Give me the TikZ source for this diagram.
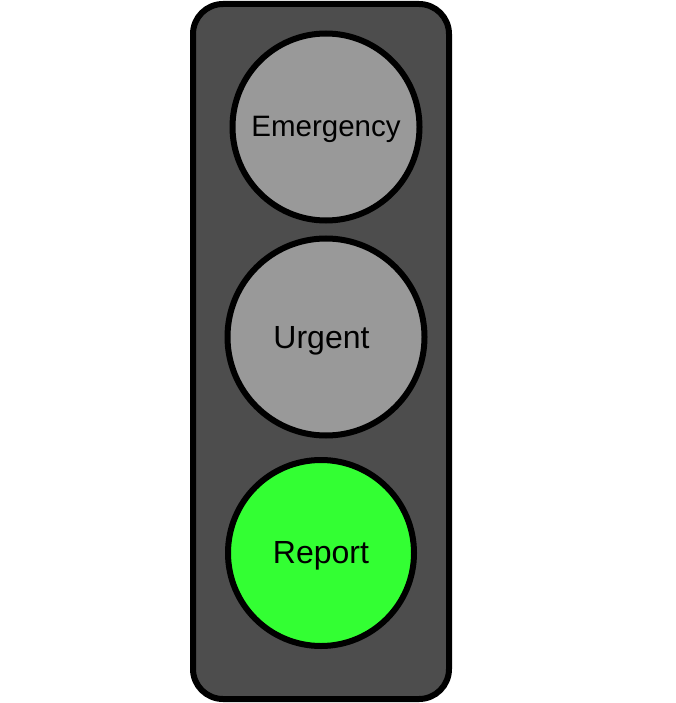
\documentclass[tikz,border=0pt]{standalone}
\usepackage{fontspec}
\setmainfont{Liberation Sans}
\definecolor{housing}{HTML}{4D4D4D}
\definecolor{lampoff}{HTML}{999999}
\definecolor{lampgreen}{HTML}{33FF33}
\begin{document}
\begin{tikzpicture}[x=1pt,y=-1pt,
  lamp/.style={circle,draw=black,line width=6pt,inner sep=0pt},
  lbl/.style={anchor=base,text=black,inner sep=0pt}]
\useasboundingbox (0,0) rectangle (675,703);
\fill[white] (0,0) rectangle (675,703);
\draw[fill=housing,line width=6pt,rounded corners=30pt] (193,4) rectangle (449,699);
\node[lamp,fill=lampoff,minimum size=187pt] (emergency) at (326,127) {};
\node[lamp,fill=lampoff,minimum size=197pt] (urgent) at (326,337) {};
\node[lamp,fill=lampgreen,minimum size=186pt] (report) at (321,553) {};
\node[lbl,font=\fontsize{29.5}{32}\selectfont] (temergency) at (326,137) {Emergency};
\node[lbl,font=\fontsize{32}{34}\selectfont] (turgent) at (321.5,348.3) {Urgent};
\node[lbl,font=\fontsize{32}{34}\selectfont] (treport) at (321,563) {Report};
\end{tikzpicture}
\end{document}
